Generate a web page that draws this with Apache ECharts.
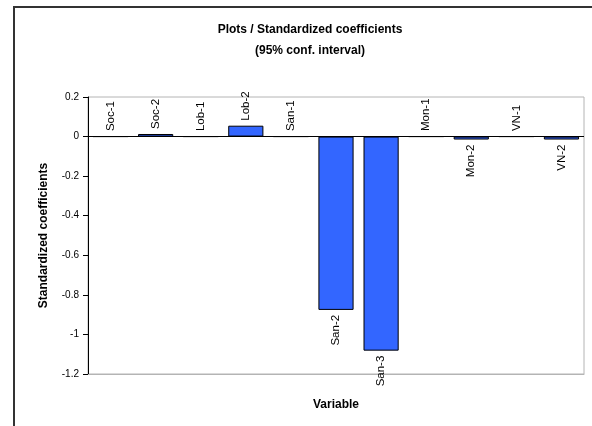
<!DOCTYPE html>
<html>
<head>
<meta charset="utf-8">
<script src="https://cdn.jsdelivr.net/npm/echarts@6/dist/echarts.min.js"></script>
<style>
  html, body { margin: 0; padding: 0; background: #fff; }
  #coefChart { width: 592px; height: 426px; }
</style>
</head>
<body>
<div id="coefChart"></div>
<script>
var variables = ['Soc-1', 'Soc-2', 'Lob-1', 'Lob-2', 'San-1', 'San-2', 'San-3', 'Mon-1', 'Mon-2', 'VN-1', 'VN-2'];
var coefficients = [0, 0.013, 0, 0.055, 0, -0.876, -1.082, 0, -0.015, 0, -0.015];
var yTicks = { min: -1.2, max: 0.2, step: 0.2 };

var font = 'Liberation Sans, Arial, sans-serif';

// positive / zero bars get their name above, negative ones below
var barData = coefficients.map(function (v) {
    return {
        value: v,
        label: v >= 0
            ? { position: 'top', align: 'left', verticalAlign: 'middle' }
            : { position: 'bottom', align: 'right', verticalAlign: 'middle' }
    };
});

var myChart = echarts.init(document.getElementById('coefChart'));
var option = {
    animation: false,
    textStyle: { fontFamily: font },
    title: {
        text: 'Plots / Standardized coefficients\n(95% conf. interval)',
        left: 305,
        textAlign: 'center',
        top: 14,
        textStyle: { fontSize: 12, fontWeight: 'bold', color: '#000', lineHeight: 21, fontFamily: font }
    },
    graphic: [{
        type: 'rect',
        shape: { x: 14, y: 7, width: 620, height: 460 },
        style: { fill: 'none', stroke: '#333', lineWidth: 2 },
        silent: true
    }],
    grid: {
        left: 88, right: 8, top: 97, bottom: 52,
        show: true, borderColor: '#b4b4b4', borderWidth: 1
    },
    xAxis: {
        type: 'category',
        data: variables,
        axisLine: { onZero: false, lineStyle: { color: '#b4b4b4' } },
        axisTick: { show: false },
        axisLabel: { show: false },
        name: 'Variable',
        nameLocation: 'middle',
        nameGap: 25,
        nameTextStyle: { fontSize: 12, fontWeight: 'bold', color: '#000', fontFamily: font }
    },
    yAxis: {
        type: 'value',
        min: yTicks.min,
        max: yTicks.max,
        interval: yTicks.step,
        splitLine: { show: false },
        axisLine: { show: true, lineStyle: { color: '#000' } },
        axisTick: { show: true, length: 5, lineStyle: { color: '#000' } },
        axisLabel: { fontSize: 10, color: '#000', margin: 9, fontFamily: font },
        name: 'Standardized coefficients',
        nameLocation: 'middle',
        nameRotate: 90,
        nameGap: 38,
        nameTextStyle: { fontSize: 12, fontWeight: 'bold', color: '#000', fontFamily: font }
    },
    series: [{
        type: 'bar',
        data: barData,
        barCategoryGap: '22%',
        itemStyle: { color: '#3366ff', borderColor: '#000', borderWidth: 1 },
        label: {
            show: true,
            rotate: 90,
            distance: 5,
            fontSize: 11.5,
            color: '#000',
            fontFamily: font,
            formatter: function (p) { return p.name; }
        },
        markLine: {
            silent: true,
            symbol: 'none',
            label: { show: false },
            lineStyle: { color: '#000', type: 'solid', width: 1 },
            data: [{ yAxis: 0 }]
        }
    }]
};
myChart.setOption(option);
</script>
</body>
</html>
